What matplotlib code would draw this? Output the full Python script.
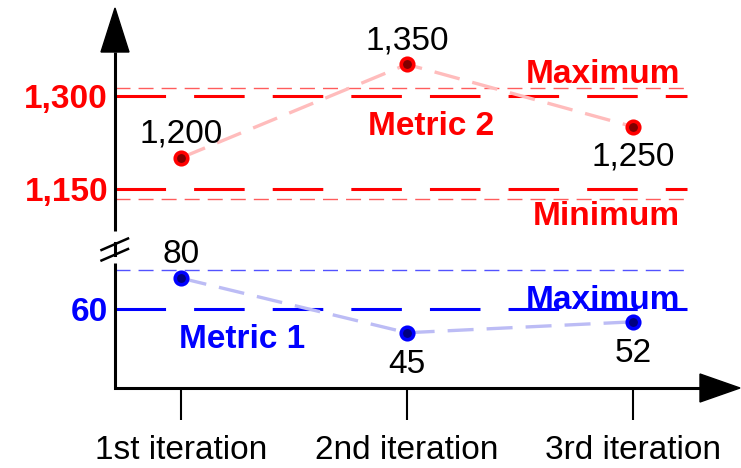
import numpy as np
import matplotlib.pyplot as plt
from matplotlib.patches import Polygon
from matplotlib.lines import Line2D

plt.rcParams['font.family'] = ['Liberation Sans', 'DejaVu Sans']
plt.rcParams['lines.scale_dashes'] = False

# data
iterations = ['1st iteration', '2nd iteration', '3rd iteration']
metric1 = [80, 45, 52]
metric2 = [1200, 1350, 1250]
m1_ticks = [60]
m2_ticks = [1150, 1300]
m1_max = 85
m2_max = 1312
m2_min = 1134

W, H = 741, 468
fig = plt.figure(figsize=(W / 100, H / 100), dpi=100)


def box(x0, y0, x1, y1):
    # pixel box (origin top-left) -> figure rect
    return [x0 / W, 1 - y1 / H, (x1 - x0) / W, (y1 - y0) / H]


ax2 = fig.add_axes(box(115, 8, 740, 231))   # metric 2 (upper)
ax1 = fig.add_axes(box(115, 265, 740, 388))  # metric 1 (lower)

x = np.arange(len(iterations))
xl = (-0.292, 2.4735)
x_end = 2.24
for ax in (ax1, ax2):
    ax.set_xlim(*xl)
    for s in ax.spines.values():
        s.set_visible(False)
    ax.patch.set_alpha(0)
ax2.set_ylim(1082.6, 1440.4)
ax1.set_ylim(9.57, 88.42)

thick = dict(lw=2.2, dashes=(36.4, 20.2))
thin = dict(lw=1.0, dashes=(10.8, 5.8))
conn = dict(lw=2.4, dashes=(18.7, 9.4))

# ---- metric 2
for t in m2_ticks:
    ax2.plot([xl[0], x_end], [t, t], color='#ff0000', **thick)
for t in (m2_max, m2_min):
    ax2.plot([xl[0], x_end], [t, t], color='#ff5c5c', **thin)
ax2.plot(x, metric2, color='#ffbcbc', zorder=3, **conn)
ax2.plot(x, metric2, 'o', ms=9, mew=2.6, mec='#ff0000', mfc='#800000', zorder=4)
for i, (v, side) in enumerate(zip(metric2, [1, 1, -1])):
    ax2.annotate(f'{v:,}', (i, v), xytext=(0, 15 if side > 0 else -39),
                 textcoords='offset pixels', ha='center', va='baseline', fontsize=24)
ax2.set_xticks([])
ax2.set_yticks(m2_ticks, [f'{t:,}' for t in m2_ticks])
ax2.tick_params(axis='y', length=0, pad=5, labelsize=24, labelcolor='#ff0000')
for lab in ax2.get_yticklabels():
    lab.set_fontweight('bold')
ax2.text(1.108, 1236.6, 'Metric 2', color='#ff0000', fontsize=24, fontweight='bold',
         ha='center', va='baseline')
ax2.text(2.208, 1320, 'Maximum', color='#ff0000', fontsize=24, fontweight='bold',
         ha='right', va='baseline')
ax2.text(2.208, 1092.2, 'Minimum', color='#ff0000', fontsize=24, fontweight='bold',
         ha='right', va='baseline')

# ---- metric 1
for t in m1_ticks:
    ax1.plot([xl[0], x_end], [t, t], color='#0000ff', **thick)
ax1.plot([xl[0], x_end], [m1_max, m1_max], color='#5252ff', **thin)
ax1.plot(x, metric1, color='#bcbcf5', zorder=3, **conn)
ax1.plot(x, metric1, 'o', ms=9, mew=2.6, mec='#0000ff', mfc='#000080', zorder=4)
for i, (v, side) in enumerate(zip(metric1, [1, -1, -1])):
    ax1.annotate(f'{v:,}', (i, v), xytext=(0, 15 if side > 0 else -40),
                 textcoords='offset pixels', ha='center', va='baseline', fontsize=24)
ax1.set_xticks(x, iterations)
ax1.tick_params(axis='x', length=23, width=1.5, pad=11, labelsize=24)
ax1.set_yticks(m1_ticks, [str(t) for t in m1_ticks])
ax1.tick_params(axis='y', length=0, pad=5, labelsize=24, labelcolor='#0000ff')
for lab in ax1.get_yticklabels():
    lab.set_fontweight('bold')
ax1.text(2.208, 60, 'Maximum', color='#0000ff', fontsize=24, fontweight='bold',
         ha='right', va='baseline')
ax1.text(0.272, 35.2, 'Metric 1', color='#0000ff', fontsize=24, fontweight='bold',
         ha='center', va='baseline')

# ---- axis lines with arrows
ax2.plot([0, 0], [0, 1 - 44 / 223], transform=ax2.transAxes, color='k', lw=2.2,
         clip_on=False, solid_capstyle='butt')
ax2.add_patch(Polygon([(-14 / 625, 1 - 44 / 223), (14 / 625, 1 - 44 / 223), (0, 1)],
                      closed=True, color='k', transform=ax2.transAxes, clip_on=False))
ax1.plot([0, 0, 1 - 40 / 625], [1.02, 0, 0], transform=ax1.transAxes, color='k', lw=2.2,
         clip_on=False, solid_joinstyle='miter', solid_capstyle='butt')
ax1.add_patch(Polygon([(1 - 40 / 625, -14 / 123), (1 - 40 / 625, 14 / 123), (1, 0)],
                      closed=True, color='k', transform=ax1.transAxes, clip_on=False))

# axis break marks
for (x0, y0, x1, y1) in [(101.5, 250, 128, 238.5), (101.5, 260.5, 128, 249)]:
    fig.add_artist(Line2D([x0 / W, x1 / W], [1 - y0 / H, 1 - y1 / H], color='k', lw=1.8))
fig.add_artist(Line2D([115 / W, 115 / W], [1 - 243 / H, 1 - 255 / H], color='k', lw=2.2))

fig.savefig('out.png', dpi=100)
